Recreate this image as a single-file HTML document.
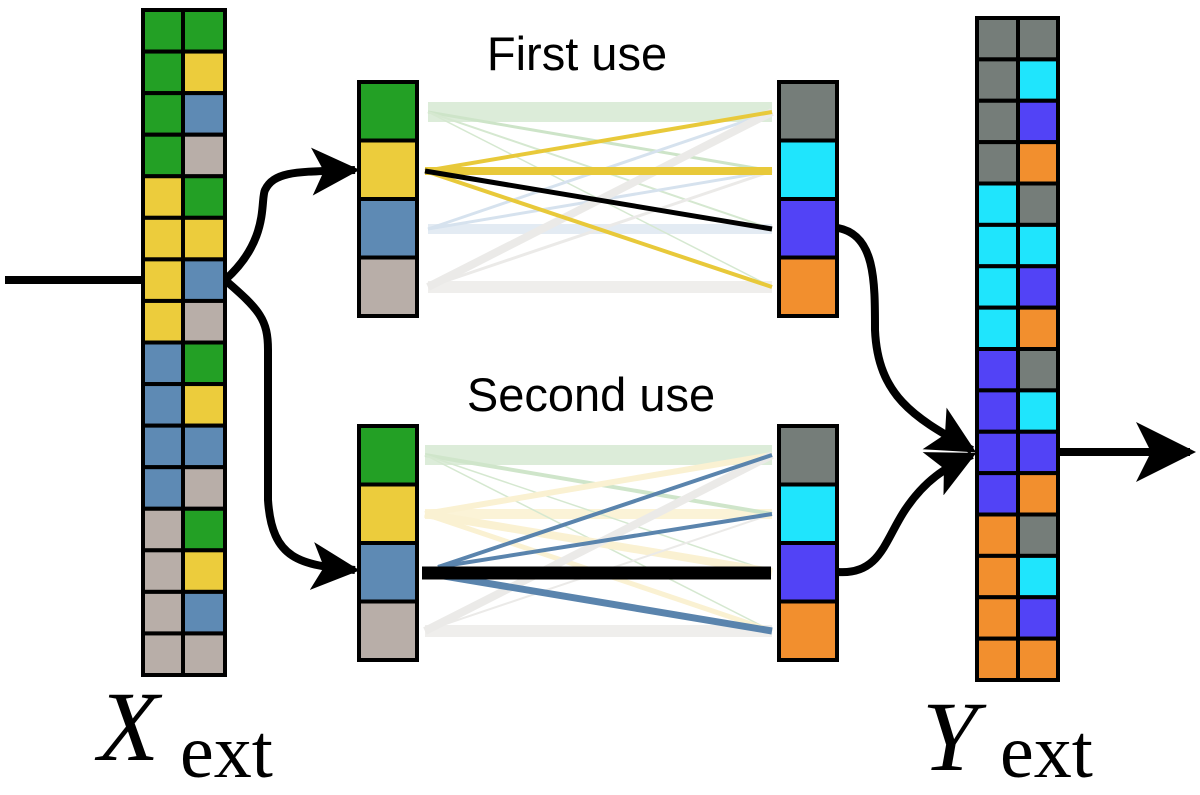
<!DOCTYPE html>
<html><head><meta charset="utf-8"><style>
html,body{margin:0;padding:0;background:#fff;width:1200px;height:795px;overflow:hidden}
svg{display:block}
</style></head><body>
<svg width="1200" height="795" viewBox="0 0 1200 795" xmlns="http://www.w3.org/2000/svg">
<defs>
<marker id="ah" viewBox="0 0 10 10" refX="9" refY="5" markerWidth="6" markerHeight="6" orient="auto" markerUnits="strokeWidth">
<path d="M0,0 L10,5 L0,10 L2.5,5 Z" fill="#000"/>
</marker>
<marker id="ah2" viewBox="0 0 10 10" refX="9" refY="5" markerWidth="7.5" markerHeight="7.5" orient="auto" markerUnits="strokeWidth">
<path d="M0,0 L10,5 L0,10 L2.5,5 Z" fill="#000"/>
</marker>
</defs>
<g stroke="#000" stroke-width="8" fill="none" stroke-linecap="butt">
<path d="M5,280 L143,280"/>
<path d="M225,280 C270,240 260,200 265,190 C275,170 300,172 355,170" marker-end="url(#ah)"/>
<path d="M225,280 C260,310 268,320 268,350 L268,500 C272,560 300,565 355,570" marker-end="url(#ah)"/>
<path d="M838,228 C875,235 875,280 875,330 C878,400 920,420 972,450" marker-end="url(#ah)"/>
<path d="M838,572 C880,575 885,540 905,510 C925,480 945,468 972,455" marker-end="url(#ah)"/>
<path d="M1058,452 L1190,452" marker-end="url(#ah2)"/>
</g>
<g stroke-linecap="butt" fill="none">
<line x1="428" y1="112" x2="772" y2="112" stroke="#dcecd9" stroke-width="20"/>
<line x1="428" y1="229" x2="772" y2="229" stroke="#e3ebf3" stroke-width="10"/>
<line x1="428" y1="287" x2="772" y2="287" stroke="#efeeec" stroke-width="12"/>
<line x1="428" y1="112" x2="772" y2="171" stroke="#cde4c8" stroke-width="3"/>
<line x1="428" y1="112" x2="772" y2="229" stroke="#d5e8d0" stroke-width="2"/>
<line x1="428" y1="112" x2="772" y2="287" stroke="#d5e8d0" stroke-width="1.5"/>
<line x1="428" y1="229" x2="772" y2="112" stroke="#d6e2ee" stroke-width="3"/>
<line x1="428" y1="229" x2="772" y2="171" stroke="#d6e2ee" stroke-width="3"/>
<line x1="428" y1="287" x2="772" y2="112" stroke="#ebeae8" stroke-width="8"/>
<line x1="428" y1="287" x2="772" y2="171" stroke="#ebeae8" stroke-width="3"/>
<line x1="425" y1="171" x2="772" y2="112" stroke="#e8c93a" stroke-width="4"/>
<line x1="425" y1="171" x2="772" y2="171" stroke="#e8c93a" stroke-width="8"/>
<line x1="425" y1="171" x2="772" y2="287" stroke="#e8c93a" stroke-width="4"/>
<line x1="425" y1="171" x2="772" y2="229" stroke="#000" stroke-width="5"/>
</g>
<g stroke-linecap="butt" fill="none">
<line x1="425" y1="455" x2="772" y2="455" stroke="#dcecd9" stroke-width="20"/>
<line x1="425" y1="514" x2="772" y2="514" stroke="#fbf3d7" stroke-width="10"/>
<line x1="425" y1="631" x2="772" y2="631" stroke="#efeeec" stroke-width="12"/>
<line x1="425" y1="455" x2="772" y2="514" stroke="#cfe5ca" stroke-width="4"/>
<line x1="425" y1="455" x2="772" y2="631" stroke="#d5e8d0" stroke-width="1.5"/>
<line x1="425" y1="455" x2="772" y2="572" stroke="#d5e8d0" stroke-width="1.5"/>
<line x1="425" y1="514" x2="772" y2="455" stroke="#faf1d2" stroke-width="6"/>
<line x1="425" y1="514" x2="772" y2="572" stroke="#faf1d2" stroke-width="8"/>
<line x1="425" y1="514" x2="772" y2="631" stroke="#faf1d2" stroke-width="5"/>
<line x1="425" y1="631" x2="772" y2="455" stroke="#ebeae8" stroke-width="8"/>
<line x1="425" y1="631" x2="772" y2="514" stroke="#ebeae8" stroke-width="2"/>
<line x1="438" y1="567" x2="772" y2="455" stroke="#5a84ad" stroke-width="4"/>
<line x1="438" y1="567" x2="772" y2="514" stroke="#5a84ad" stroke-width="4"/>
<line x1="438" y1="575" x2="772" y2="631" stroke="#5a84ad" stroke-width="7"/>
<line x1="422" y1="573" x2="771" y2="573" stroke="#000" stroke-width="13"/>
</g>
<g id="cells" stroke="#000" stroke-width="4"></g>
<text x="577" y="70" font-family="Liberation Sans, sans-serif" font-size="47" text-anchor="middle">First use</text>
<text x="591" y="411" font-family="Liberation Sans, sans-serif" font-size="47" text-anchor="middle">Second use</text>
<text x="98" y="760" font-family="Liberation Serif, serif" font-style="italic" font-size="100">X</text>
<text x="180" y="777" font-family="Liberation Serif, serif" font-size="76">ext</text>
<text x="922" y="770" font-family="Liberation Serif, serif" font-style="italic" font-size="100">Y</text>
<text x="1000" y="777" font-family="Liberation Serif, serif" font-size="76">ext</text>
</svg>
<script>
(function(){
var g=document.getElementById('cells');var ns='http://www.w3.org/2000/svg';
function r(x,y,w,h,c){var e=document.createElementNS(ns,'rect');e.setAttribute('x',x);e.setAttribute('y',y);e.setAttribute('width',w);e.setAttribute('height',h);e.setAttribute('fill',c);g.appendChild(e);}
var A=['#23a025','#eccc3c','#5e8ab4','#b8aea8'];
var B=['#757d79','#1fe5fd','#5243f6','#f28f2e'];
var h=(675-10)/16;
for(var i=0;i<16;i++){r(143,10+i*h,40,h,A[Math.floor(i/4)]);r(183,10+i*h,42,h,A[i%4]);}
var h2=(680-18)/16;
for(var i=0;i<16;i++){r(977,18+i*h2,41,h2,B[Math.floor(i/4)]);r(1018,18+i*h2,40,h2,B[i%4]);}
var mh=58.5;
for(var i=0;i<4;i++){r(359,82+i*mh,58,mh,A[i]);r(359,426+i*mh,58,mh,A[i]);r(779,82+i*mh,58,mh,B[i]);r(779,426+i*mh,58,mh,B[i]);}
})();
</script>
</body></html>
